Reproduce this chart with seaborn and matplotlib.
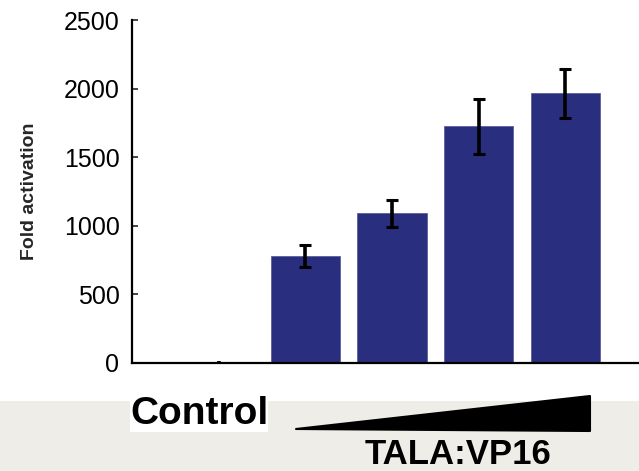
import numpy as np
import pandas as pd
import matplotlib
matplotlib.use("Agg")
import matplotlib.pyplot as plt
import seaborn as sns
from matplotlib.patches import Rectangle, Polygon

# ── data ──
conditions = ["Control", "TALA 1", "TALA 2", "TALA 3", "TALA 4"]
fold_mean = [8, 780, 1090, 1725, 1965]
fold_err = [8, 80, 98, 200, 178]
y_ticks = [0, 500, 1000, 1500, 2000, 2500]

bar_color = "#292E7F"

sns.set_theme(style="white")
plt.rcParams["font.family"] = ["Liberation Sans", "DejaVu Sans"]

W, H = 639, 471
fig = plt.figure(figsize=(W / 100, H / 100), dpi=100)

# beige band at the bottom
fig.patches.append(Rectangle((0, 0), 1, 1 - 401 / H, transform=fig.transFigure,
                             facecolor="#EFEDE7", edgecolor="none", zorder=0))

ax = fig.add_axes([132 / W, 1 - 363 / H, 1 - 132 / W, (363 - 20) / H])
ax.set_facecolor("none")

df = pd.DataFrame({"cond": conditions, "fold": fold_mean})
sns.barplot(data=df, x="cond", y="fold", color=bar_color, saturation=1,
            errorbar=None, width=0.8, edgecolor="#5C609A", linewidth=0.6, ax=ax)
x = np.arange(len(conditions))
# control: tiny bump, no caps
ax.errorbar(x[:1], fold_mean[:1], yerr=fold_err[:1], fmt="none",
            ecolor="black", elinewidth=2.6, capsize=0, zorder=5)
ax.errorbar(x[1:], fold_mean[1:], yerr=fold_err[1:], fmt="none",
            ecolor="black", elinewidth=2.6, capsize=4, capthick=2.2, zorder=5)

ax.set_xlim(-1.0, 4.85)
ax.set_ylim(0, 2500)
ax.set_yticks(y_ticks)
ax.set_yticklabels([str(t) for t in y_ticks], fontsize=18, color="black")
ax.tick_params(axis="y", direction="in", length=4, width=1.2, pad=9, left=True)
ax.tick_params(axis="x", bottom=False, labelbottom=False)
ax.set_xlabel("")
ax.set_ylabel("Fold activation", fontsize=14, fontweight="bold")
ax.yaxis.set_label_coords(-0.185, 0.50)

sns.despine(ax=ax)
for side in ["left", "bottom"]:
    ax.spines[side].set_color("black")
    ax.spines[side].set_linewidth(1.6)
ax.spines["left"].set_bounds(0, 2500)

# labels under the axis
fig.text(130 / W, 1 - 414 / H, "Control", fontsize=28, fontweight="bold",
         ha="left", va="center", color="black",
         bbox=dict(facecolor="white", edgecolor="none", pad=0))
fig.text(458 / W, 1 - 455 / H, "TALA:VP16", fontsize=25, fontweight="bold",
         ha="center", va="center", color="black")

# increasing-dose wedge
wedge = [(296 / W, 1 - 429 / H), (590 / W, 1 - 396 / H), (590 / W, 1 - 431 / H)]
fig.patches.append(Polygon(wedge, closed=True, transform=fig.transFigure,
                           facecolor="black", edgecolor="black", linewidth=1.5,
                           joinstyle="round", zorder=3))

fig.savefig("out.png", dpi=100)
